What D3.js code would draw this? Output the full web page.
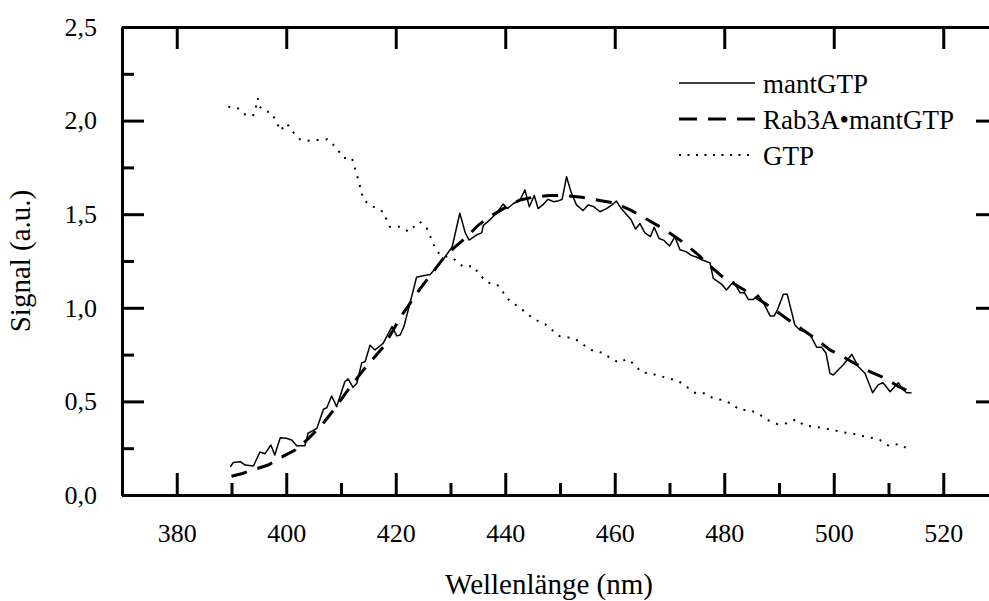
<!DOCTYPE html>
<html>
<head>
<meta charset="utf-8">
<script src="https://d3js.org/d3.v7.min.js"></script>
<style>
  body { margin: 0; background: #fff; }
  svg { font-family: "Liberation Serif", "Times New Roman", serif; display: block; }
  .axis path, .axis line { stroke: #000; stroke-width: 3; }
  .axis text { font-family: "Liberation Serif", "Times New Roman", serif; font-size: 26px; fill: #000; }
  .title { font-size: 29px; fill: #000; }
  .legend text { font-size: 27px; fill: #000; }
</style>
</head>
<body>
<div id="chart"></div>
<script>
// mantGTP (noisy spectrum)
var mantX = [389.8,390.3,391.6,392.5,394.0,395.2,396.1,397.2,397.9,398.9,400.0,401.0,401.9,403.4,404.0,405.6,406.8,407.4,408.3,409.2,
  410.7,411.3,412.2,412.9,413.8,414.4,415.3,416.2,417.7,419.3,420.2,420.8,421.5,422.9,423.8,425.0,426.3,428.7,430.3,431.7,
  432.7,433.4,434.8,435.7,436.0,437.2,438.4,439.6,440.4,441.5,442.7,443.6,444.4,445.3,446.0,447.0,447.8,448.8,449.6,450.4,
  451.2,452.0,453.0,454.2,455.2,456.2,457.3,458.5,459.5,460.3,461.2,462.1,463.0,463.8,464.6,465.5,466.5,467.2,468.1,469.0,
  470.0,471.0,471.9,473.0,474.0,475.0,476.0,477.4,478.0,479.5,480.4,481.7,482.9,483.7,484.4,485.3,486.2,487.1,488.4,489.1,
  489.7,490.8,491.5,492.9,493.8,494.7,495.7,496.9,497.8,498.6,499.3,499.9,501.7,503.3,504.5,505.7,507.1,508.1,509.0,510.3,
  511.8,512.4,513.3,514.2];
var mantY = [0.15,0.173,0.178,0.16,0.155,0.23,0.22,0.267,0.214,0.306,0.303,0.294,0.263,0.263,0.33,0.356,0.458,0.466,0.529,0.472,
  0.605,0.62,0.575,0.597,0.707,0.712,0.80,0.775,0.81,0.90,0.85,0.855,0.90,1.06,1.163,1.171,1.178,1.26,1.325,1.505,
  1.40,1.362,1.39,1.40,1.44,1.47,1.505,1.554,1.53,1.557,1.576,1.63,1.54,1.60,1.53,1.554,1.58,1.567,1.57,1.58,
  1.70,1.62,1.55,1.52,1.55,1.54,1.513,1.53,1.55,1.57,1.53,1.50,1.47,1.42,1.45,1.40,1.38,1.43,1.37,1.36,
  1.33,1.38,1.31,1.30,1.28,1.27,1.255,1.24,1.157,1.127,1.095,1.14,1.08,1.08,1.045,1.045,1.068,1.03,0.956,0.956,
  0.988,1.072,1.072,0.908,0.881,0.872,0.855,0.789,0.789,0.757,0.65,0.641,0.694,0.751,0.685,0.65,0.546,0.588,0.60,0.552,
  0.60,0.57,0.546,0.546];

// Rab3A•mantGTP (smooth)
var rabX = [390,392,394,396.7,399,401.6,404,406.5,408.9,411,414.1,417.7,421.1,424.4,426.5,428.7,431,433,435.1,437.2,
  440,442.7,445,448,451,454,457,460,463,466,469,472,475,477.5,479.5,481.7,484.7,487.1,489.6,492,
  494,496.9,499.3,501.7,504,506.6,509.4,511.8,514];
var rabY = [0.10,0.115,0.135,0.16,0.20,0.24,0.30,0.374,0.463,0.55,0.668,0.79,0.96,1.10,1.18,1.264,1.33,1.38,1.442,1.487,
  1.535,1.576,1.59,1.60,1.60,1.59,1.575,1.56,1.52,1.47,1.42,1.36,1.29,1.22,1.17,1.13,1.077,1.03,0.98,0.93,
  0.89,0.83,0.775,0.739,0.70,0.659,0.623,0.58,0.55];

// GTP
var gtpX = [389.4,391.2,392.8,394.0,394.5,394.8,395.2,395.8,397.3,398.3,398.9,400.1,401.2,402.5,404.0,405.6,407.5,409.0,410.5,412.0,
  413.2,414.1,415.9,417.7,418.9,420.8,422.3,424.4,425.7,427.2,428.1,430.5,432.3,434.2,435.3,436.9,438.5,439.6,440.9,442.6,
  444.1,445.6,447.3,448.7,449.9,451.5,453.0,454.6,456.1,457.8,459.1,460.8,462.2,463.5,464.9,466.4,468.1,469.9,471.6,473.1,
  474.8,476.5,478.0,479.8,481.4,482.9,484.7,486.4,488.0,489.7,491.4,493.1,494.7,496.6,498.2,499.9,501.6,503.3,504.9,506.6,
  508.4,510.1,511.8,513.4];
var gtpY = [2.074,2.065,2.025,2.03,2.078,2.119,2.074,2.053,2.042,1.989,1.946,1.985,1.94,1.90,1.893,1.896,1.90,1.86,1.80,1.80,
  1.68,1.576,1.54,1.513,1.433,1.433,1.407,1.46,1.424,1.318,1.282,1.264,1.22,1.223,1.175,1.134,1.125,1.083,1.033,1.003,
  0.965,0.935,0.912,0.878,0.849,0.842,0.828,0.796,0.769,0.76,0.733,0.707,0.726,0.70,0.655,0.65,0.637,0.623,0.609,0.579,
  0.543,0.543,0.516,0.507,0.486,0.454,0.454,0.431,0.40,0.379,0.383,0.404,0.37,0.365,0.356,0.347,0.335,0.33,0.317,0.308,
  0.294,0.262,0.272,0.249];

var xMajor = [380,400,420,440,460,480,500,520];
var xMinor = [370,390,410,430,450,470,490,510,530];
var yMajor = [0,0.5,1,1.5,2,2.5];
var yMinor = [0.25,0.75,1.25,1.75,2.25];

var legendNames = ["mantGTP", "Rab3A\u2022mantGTP", "GTP"];

var W = 989, H = 601;
var mLeft = 122, mRight = 998, mTop = 27, mBottom = 495;
var majorLen = 22, minorLen = 12;
var serif = "'Liberation Serif', 'Times New Roman', serif";

var x = d3.scaleLinear().domain([370, 530]).range([mLeft, mRight]);
var y = d3.scaleLinear().domain([0, 2.5]).range([mBottom, mTop]);

var de = d3.formatLocale({decimal: ",", thousands: ".", grouping: [3], currency: ["", "€"]});
var fmt = de.format(".1f");

var svg = d3.select("#chart").append("svg")
  .attr("width", W).attr("height", H)
  .attr("font-family", serif);

/* axes */
function addAxis(axis, tx, ty) {
  svg.append("g").attr("class", "axis")
    .attr("transform", "translate(" + tx + "," + ty + ")")
    .call(axis)
    .attr("font-family", serif);
}
// bottom (major + minor, labels)
addAxis(d3.axisBottom(x).tickValues(xMajor).tickSizeInner(-majorLen).tickSizeOuter(0).tickPadding(29), 0, mBottom);
addAxis(d3.axisBottom(x).tickValues(xMinor).tickSizeInner(-minorLen).tickSizeOuter(0).tickFormat(""), 0, mBottom);
// top (major only)
addAxis(d3.axisTop(x).tickValues(xMajor).tickSizeInner(-majorLen).tickSizeOuter(0).tickFormat(""), 0, mTop);
// left (major + minor, labels)
addAxis(d3.axisLeft(y).tickValues(yMajor).tickSizeInner(-majorLen).tickSizeOuter(0).tickPadding(25).tickFormat(fmt), mLeft, 0);
addAxis(d3.axisLeft(y).tickValues(yMinor).tickSizeInner(-minorLen).tickSizeOuter(0).tickFormat(""), mLeft, 0);
// right (major only, axis line falls just outside the window)
addAxis(d3.axisRight(y).tickValues(yMajor).tickSizeInner(-majorLen).tickSizeOuter(0).tickFormat(""), mRight, 0);

/* lines */
var line = d3.line().x(d => x(d[0])).y(d => y(d[1]));

svg.append("path")
  .datum(gtpX.map((v, i) => [v, gtpY[i]]))
  .attr("d", line).attr("fill", "none").attr("stroke", "#000")
  .attr("stroke-width", 2).attr("stroke-dasharray", "2,7");

svg.append("path")
  .datum(rabX.map((v, i) => [v, rabY[i]]))
  .attr("d", line).attr("fill", "none").attr("stroke", "#000")
  .attr("stroke-width", 3).attr("stroke-dasharray", "16,11");

svg.append("path")
  .datum(mantX.map((v, i) => [v, mantY[i]]))
  .attr("d", line).attr("fill", "none").attr("stroke", "#000")
  .attr("stroke-width", 1.5).attr("stroke-linejoin", "round");

/* axis titles */
svg.append("text").attr("class", "title")
  .attr("font-family", serif)
  .attr("x", 549).attr("y", 594).attr("text-anchor", "middle")
  .text("Wellenlänge (nm)");

svg.append("text").attr("class", "title")
  .attr("font-family", serif)
  .attr("transform", "translate(30," + ((mTop + mBottom) / 2) + ") rotate(-90)")
  .attr("text-anchor", "middle")
  .text("Signal (a.u.)");

/* legend */
var styles = [
  {w: 1.5, dash: null},
  {w: 3, dash: "18,11"},
  {w: 2, dash: "2,6.5"}
];
var lg = svg.append("g").attr("class", "legend").attr("font-family", serif);
legendNames.forEach(function(name, i) {
  var cy = 83 + i * 36;
  lg.append("line")
    .attr("x1", 679).attr("x2", 755).attr("y1", cy).attr("y2", cy)
    .attr("stroke", "#000").attr("stroke-width", styles[i].w)
    .attr("stroke-dasharray", styles[i].dash);
  lg.append("text").attr("x", 763).attr("y", cy + 10).text(name);
});
</script>
</body>
</html>
